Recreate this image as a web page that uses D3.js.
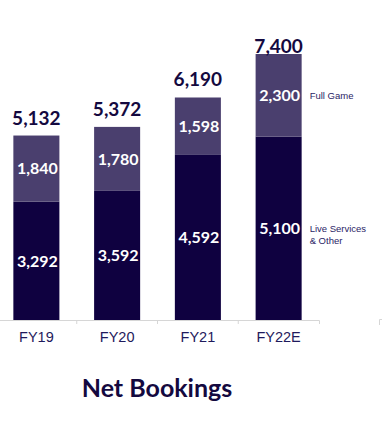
<!DOCTYPE html>
<html>
<head>
<meta charset="utf-8">
<script src="https://cdn.jsdelivr.net/npm/d3@7"></script>
<style>
	body { margin: 0; background: #fff; }
	svg { display: block; }
</style>
</head>
<body>
<div id="chart"></div>
<script>
const years = ['FY19', 'FY20', 'FY21', 'FY22E'];
const liveServices = [3292, 3592, 4592, 5100];
const fullGame = [1840, 1780, 1598, 2300];
const totals = [5132, 5372, 6190, 7400];
const seriesNames = ['Live Services & Other', 'Full Game'];

const width = 382, height = 421;
const baseY = 320;
const fmt = d3.format(',');

const svg = d3.select('#chart')
	.append('svg')
	.attr('width', width)
	.attr('height', height);

const x = d3.scaleBand()
	.domain(years)
	.range([-4, 319]);

const y = d3.scaleLinear()
	.domain([0, 7400])
	.range([baseY, 54]);

const barW = x.bandwidth() * 0.57;
const barX = d => x(d) + (x.bandwidth() - barW) / 2;

const rows = years.map((yr, i) => ({
	year: yr,
	live: liveServices[i],
	full: fullGame[i],
	total: totals[i]
}));

// axis
const axis = svg.append('g')
	.attr('transform', `translate(0, ${baseY})`)
	.call(d3.axisBottom(x).tickSizeInner(0).tickSizeOuter(4).tickPadding(12));

axis.select('.domain').attr('stroke', '#d6d6d6');
axis.selectAll('text')
	.attr('font-family', 'Liberation Sans, Arial, sans-serif')
	.attr('font-size', 14.5)
	.attr('fill', '#1f1a5c');

axis.selectAll('.boundary')
	.data(years.slice(0, -1))
	.enter()
	.append('line')
	.attr('class', 'boundary')
	.attr('x1', d => x(d) + x.bandwidth())
	.attr('x2', d => x(d) + x.bandwidth())
	.attr('y1', 0)
	.attr('y2', 4)
	.attr('stroke', '#d6d6d6');

// stray edge mark at the right
svg.append('path')
	.attr('d', `M379.5,${baseY + 5}V${baseY - 0.5}H382`)
	.attr('fill', 'none')
	.attr('stroke', '#d6d6d6');

// bars
const bars = svg.selectAll('.bar')
	.data(rows)
	.enter()
	.append('g')
	.attr('class', 'bar');

bars.append('rect')
	.attr('x', d => barX(d.year))
	.attr('y', d => y(d.live))
	.attr('width', barW)
	.attr('height', d => baseY - y(d.live))
	.attr('fill', '#0f0140');

bars.append('rect')
	.attr('x', d => barX(d.year))
	.attr('y', d => y(d.live + d.full))
	.attr('width', barW)
	.attr('height', d => y(d.live) - y(d.live + d.full))
	.attr('fill', '#4a3f6e');

const segLabel = (sel, val, mid) => sel.append('text')
	.attr('x', d => x(d.year) + x.bandwidth() / 2 + 1)
	.attr('y', mid)
	.attr('dy', '0.36em')
	.attr('text-anchor', 'middle')
	.attr('font-family', 'Lato, sans-serif')
	.attr('font-weight', 700)
	.attr('font-size', 16)
	.attr('fill', '#fff')
	.text(d => fmt(val(d)));

segLabel(bars, d => d.live, d => (baseY + y(d.live)) / 2);
segLabel(bars, d => d.full, d => (y(d.live) + y(d.live + d.full)) / 2);

bars.append('text')
	.attr('x', d => x(d.year) + x.bandwidth() / 2)
	.attr('y', d => Math.max(y(d.total) - 11, 53))
	.attr('text-anchor', 'middle')
	.attr('font-family', 'Lato, sans-serif')
	.attr('font-weight', 700)
	.attr('font-size', 19)
	.attr('fill', '#14093f')
	.text(d => fmt(d.total));

// series labels beside the last bar
const last = rows[rows.length - 1];
const legendX = barX(last.year) + barW + 8;
const legend = svg.append('g')
	.attr('font-family', 'Liberation Sans, Arial, sans-serif')
	.attr('font-size', 9.5)
	.attr('fill', '#2a2466');

legend.append('text')
	.attr('x', legendX)
	.attr('y', (y(last.live) + y(last.total)) / 2)
	.attr('dy', '0.35em')
	.text(seriesNames[1]);

const liveText = legend.append('text')
	.attr('x', legendX)
	.attr('y', (baseY + y(last.live)) / 2)
	.attr('dy', '0.35em');
liveText.append('tspan').text('Live Services');
liveText.append('tspan').attr('x', legendX).attr('dy', 12.5).text('& Other');

// title
svg.append('text')
	.attr('x', 157)
	.attr('y', 397)
	.attr('text-anchor', 'middle')
	.attr('font-family', 'Lato, sans-serif')
	.attr('font-weight', 700)
	.attr('font-size', 25)
	.attr('fill', '#14093f')
	.text('Net Bookings');
</script>
</body>
</html>
